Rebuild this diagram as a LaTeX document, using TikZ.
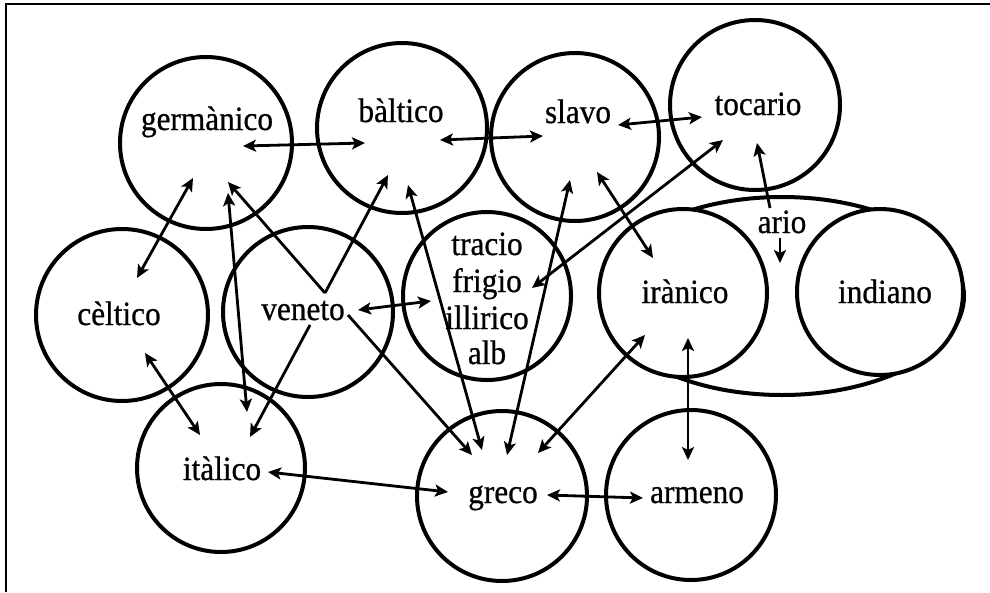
\documentclass[tikz,border=0pt]{standalone}
\usepackage{fontspec}
\setmainfont{Liberation Serif}[FakeBold=0.7,FakeStretch=0.92]
\usetikzlibrary{arrows.meta}
\begin{document}
\begin{tikzpicture}[x=1pt,y=-1pt,
  circ/.style={draw, circle, line width=4pt, minimum size=#1, inner sep=0pt},
  lab/.style={anchor=base, inner sep=0pt, font=\fontsize{34}{40}\selectfont},
  tip/.tip={Stealth[length=13pt,width=12pt,inset=3pt]},
  dbl/.style={tip-tip, line width=2.8pt},
  one/.style={-tip, line width=2.8pt},
  frame/.style={line width=2.5pt}]
\useasboundingbox (0,0) rectangle (990,592);
\coordinate (fa) at (6,592);
\coordinate (fb) at (6,4);
\coordinate (fc) at (990,4);
\draw[frame] (fa) -- (fb) -- (fc);

% ario ellipse, partly hidden by the two circles inside it
\coordinate (ari) at (782,296);
\draw[line width=4pt] (ari) ellipse [x radius=182pt, y radius=99pt];
\node[circ=168pt, fill=white] (ira) at (683,293) {};
\node[circ=166pt, fill=white] (ind) at (880,292) {};

% circles
\node[circ=172pt] (ger) at (206,143) {};
\node[circ=170pt] (bal) at (402,128) {};
\node[circ=168pt] (sla) at (575,137) {};
\node[circ=170pt] (toc) at (755,105) {};
\node[circ=172pt] (cel) at (122,315) {};
\node[circ=170pt] (ven) at (308,312) {};
\node[circ=168pt] (tra) at (487,296) {};
\node[circ=168pt] (ita) at (221,468) {};
\node[circ=170pt] (gre) at (502,496) {};
\node[circ=170pt] (arm) at (691,495) {};

% labels
\node[lab] (tger) at (207,130) {germànico};
\node[lab] (tbal) at (401,122) {bàltico};
\node[lab] (tsla) at (578,123) {slavo};
\node[lab] (ttoc) at (758,115) {tocario};
\node[lab] (tari) at (782,233) {ario};
\node[lab] (tira) at (685,303) {irànico};
\node[lab] (tind) at (885,303) {indiano};
\node[lab] (tcel) at (119,325) {cèltico};
\node[lab] (tven) at (303,320) {veneto};
\node[lab] (tita) at (222,480) {itàlico};
\node[lab] (tgre) at (503,503) {greco};
\node[lab] (tarm) at (697,503) {armeno};
\node[lab] (ttr1) at (487,255) {tracio};
\node[lab] (ttr2) at (487,292) {frigio};
\node[lab] (ttr3) at (487,329) {illirico};
\node[lab] (ttr4) at (487,364) {alb};

% arrow end points
\coordinate (gb1) at (243,146); \coordinate (gb2) at (365,143);
\coordinate (bs1) at (440,140); \coordinate (bs2) at (543,136);
\coordinate (st1) at (618,125); \coordinate (st2) at (702,117);
\coordinate (ft1) at (532,288); \coordinate (ft2) at (723,140);
\coordinate (at1) at (770,208); \coordinate (at2) at (757,143);
\coordinate (ad1) at (780,238); \coordinate (ad2) at (780,263);
\coordinate (si1) at (597,172); \coordinate (si2) at (653,258);
\coordinate (sg1) at (570,180); \coordinate (sg2) at (507,455);
\coordinate (ig1) at (645,335); \coordinate (ig2) at (538,453);
\coordinate (bg1) at (408,185); \coordinate (bg2) at (482,450);
\coordinate (vtop) at (325,293);
\coordinate (vg1) at (228,182); \coordinate (vb1) at (388,175);
\coordinate (vt1) at (358,310); \coordinate (vt2) at (431,301);
\coordinate (vi0) at (310,325); \coordinate (vi1) at (250,437);
\coordinate (vr0) at (348,315); \coordinate (vr1) at (472,455);
\coordinate (gi1) at (228,193); \coordinate (gi2) at (247,412);
\coordinate (gc1) at (193,178); \coordinate (gc2) at (137,278);
\coordinate (ci1) at (145,353); \coordinate (ci2) at (200,435);
\coordinate (ir1) at (268,472); \coordinate (ir2) at (448,492);
\coordinate (ga1) at (547,495); \coordinate (ga2) at (643,498);
\coordinate (ia1) at (688,338); \coordinate (ia2) at (688,460);

% connectors
\draw[dbl] (gb1) -- (gb2);
\draw[dbl] (bs1) -- (bs2);
\draw[dbl] (st1) -- (st2);
\draw[dbl] (ft1) -- (ft2);
\draw[one] (at1) -- (at2);
\draw[one] (ad1) -- (ad2);
\draw[dbl] (si1) -- (si2);
\draw[dbl] (sg1) -- (sg2);
\draw[dbl] (ig1) -- (ig2);
\draw[dbl] (bg1) -- (bg2);
\draw[one] (vtop) -- (vg1);
\draw[one] (vtop) -- (vb1);
\draw[dbl] (vt1) -- (vt2);
\draw[one] (vi0) -- (vi1);
\draw[one] (vr0) -- (vr1);
\draw[dbl] (gi1) -- (gi2);
\draw[dbl] (gc1) -- (gc2);
\draw[dbl] (ci1) -- (ci2);
\draw[dbl] (ir1) -- (ir2);
\draw[dbl] (ga1) -- (ga2);
\draw[dbl] (ia1) -- (ia2);
\end{tikzpicture}
\end{document}
